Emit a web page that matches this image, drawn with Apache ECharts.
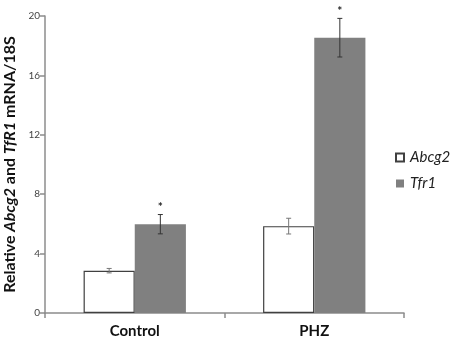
<!DOCTYPE html>
<html>
<head>
<meta charset="utf-8">
<script src="https://cdn.jsdelivr.net/npm/echarts@6/dist/echarts.min.js"></script>
<style>
  html, body { margin: 0; padding: 0; background: #fff; }
  #chart { width: 454px; height: 343px; }
</style>
</head>
<body>
<div id="chart"></div>
<script>
var categories = ['Control', 'PHZ'];
var abcg2Values = [2.85, 5.85];
var abcg2Errors = [0.15, 0.53];
var tfr1Values = [5.98, 18.54];
var tfr1Errors = [0.65, 1.3];
var tfr1Marks = ['*', '*'];
var yTicks = [0, 4, 8, 12, 16, 20];

var dom = document.getElementById('chart');
var myChart = echarts.init(dom);

var axisGrey = '#8c8c8c';
var fontFamily = 'Lato, "Open Sans", sans-serif';

// error bar data: [category index, value, error, series slot (-1 / +1)]
var errorData = [];
var errorMarks = [];
var errorColors = [];
for (var i = 0; i < categories.length; i++) {
  errorData.push([i, abcg2Values[i], abcg2Errors[i], -1]);
  errorMarks.push('');
  errorColors.push('#777');
  errorData.push([i, tfr1Values[i], tfr1Errors[i], 1]);
  errorMarks.push(tfr1Marks[i]);
  errorColors.push('#333');
}

function renderErrorBar(params, api) {
  var idx = api.value(0);
  var val = api.value(1);
  var err = api.value(2);
  var slot = api.value(3);
  var mark = errorMarks[params.dataIndex];
  var catW = api.size([1, 0])[0];
  var off = slot * catW * 0.57 / 4;
  var hi = api.coord([idx, val + err]);
  var lo = api.coord([idx, val - err]);
  var x = hi[0] + off;
  var cap = 2.5;
  var style = { stroke: errorColors[params.dataIndex], lineWidth: 1 };
  var children = [
    { type: 'line', shape: { x1: x, y1: hi[1], x2: x, y2: lo[1] }, style: style },
    { type: 'line', shape: { x1: x - cap, y1: hi[1], x2: x + cap, y2: hi[1] }, style: style },
    { type: 'line', shape: { x1: x - cap, y1: lo[1], x2: x + cap, y2: lo[1] }, style: style }
  ];
  if (mark) {
    children.push({
      type: 'text',
      style: {
        x: x, y: hi[1] - 1, text: mark, align: 'center', verticalAlign: 'bottom',
        fill: '#222', font: 'bold 12px ' + fontFamily
      }
    });
  }
  return { type: 'group', children: children };
}

var option = {
  animation: false,
  textStyle: { fontFamily: fontFamily },
  grid: { left: 45, right: 50, top: 16, bottom: 30, outerBoundsMode: 'none', containLabel: false },
  legend: {
    orient: 'vertical',
    left: 390,
    top: 145,
    itemWidth: 8,
    itemHeight: 8,
    itemGap: 11,
    icon: 'rect',
    data: ['Abcg2', 'Tfr1'],
    textStyle: { fontSize: 15, fontStyle: 'italic', color: '#222', padding: [0, 0, 0, 1] }
  },
  xAxis: {
    type: 'category',
    data: categories,
    axisLine: { lineStyle: { color: axisGrey, width: 1.5 } },
    axisTick: { show: true, length: 5, alignWithLabel: false, lineStyle: { color: axisGrey, width: 1.5 } },
    axisLabel: { fontSize: 15, fontWeight: 'bold', color: '#111', margin: 11 }
  },
  yAxis: {
    type: 'value',
    min: 0,
    max: 20,
    interval: 4,
    name: '{n|Relative }{i|Abcg2}{n| and }{i|TfR1}{n| mRNA/18S}',
    nameLocation: 'middle',
    nameGap: 27,
    nameTextStyle: {
      rich: {
        n: { fontSize: 16, fontWeight: 'bold', color: '#111', fontFamily: fontFamily },
        i: { fontSize: 16, fontWeight: 'bold', fontStyle: 'italic', color: '#111', fontFamily: fontFamily }
      }
    },
    axisLine: { show: true, lineStyle: { color: axisGrey, width: 1.5 } },
    axisTick: { show: true, length: 5, lineStyle: { color: axisGrey, width: 1.5 } },
    splitLine: { show: false },
    axisLabel: {
      fontSize: 10,
      color: '#444',
      margin: 5,
      customValues: yTicks
    }
  },
  series: [
    {
      name: 'Abcg2',
      type: 'bar',
      data: abcg2Values,
      barGap: 0,
      barCategoryGap: '43%',
      itemStyle: { color: '#fff', borderColor: '#404040', borderWidth: 1.2 }
    },
    {
      name: 'Tfr1',
      type: 'bar',
      data: tfr1Values,
      itemStyle: { color: '#808080' }
    },
    {
      name: 'error',
      type: 'custom',
      renderItem: renderErrorBar,
      data: errorData,
      encode: { x: 0, y: 1 },
      z: 5
    }
  ]
};

if (option && typeof option === "object") {
  myChart.setOption(option, true);
}
</script>
</body>
</html>
